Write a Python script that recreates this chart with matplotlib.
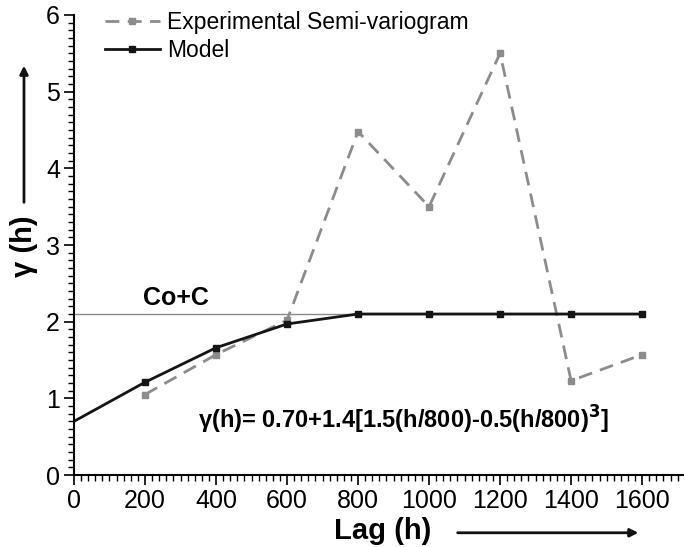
import matplotlib.pyplot as plt
from matplotlib.ticker import MultipleLocator

plt.rcParams['font.family'] = ['Liberation Sans', 'DejaVu Sans']

lag_exp = [200, 400, 600, 800, 1000, 1200, 1400, 1600]
gamma_exp = [1.05, 1.57, 2.02, 4.48, 3.5, 5.5, 1.23, 1.57]
lag_mod = [0, 200, 400, 600, 800, 1000, 1200, 1400, 1600]
gamma_mod = [0.7, 1.21, 1.66, 1.97, 2.1, 2.1, 2.1, 2.1, 2.1]
sill = 2.1

fig = plt.figure(figsize=(6.85, 5.47), dpi=100)
ax = fig.add_axes([0.108, 0.1316, 0.889, 0.841])

ax.plot([0, 1600], [sill, sill], color='#8a8a8a', lw=1)
ax.plot(lag_exp, gamma_exp, color='#8c8c8c', ls=(0, (5, 3)), lw=2,
        marker='s', ms=5, label='Experimental Semi-variogram')
ax.plot(lag_mod, gamma_mod, color='#151515', lw=2, marker='s', ms=5,
        markevery=list(range(1, 9)), label='Model')

ax.set_xlim(0, 1715)
ax.set_ylim(0, 6)
ax.xaxis.set_major_locator(MultipleLocator(200))
ax.xaxis.set_minor_locator(MultipleLocator(20))
ax.yaxis.set_major_locator(MultipleLocator(1))
ax.yaxis.set_minor_locator(MultipleLocator(0.1))
ax.tick_params(which='major', length=7, width=1.2, labelsize=18, pad=3)
ax.tick_params(which='minor', length=4, width=1)
for s in ['top', 'right']:
    ax.spines[s].set_visible(False)
for s in ['left', 'bottom']:
    ax.spines[s].set_linewidth(1.5)

ax.text(194, 2.22, 'Co+C', fontsize=18, fontweight='bold')
ax.text(350, 0.61, r'γ(h)= 0.70+1.4[1.5(h/800)-0.5(h/800)$^{\mathbf{3}}$]',
        fontsize=17, fontweight='bold')

leg = ax.legend(loc='upper left', bbox_to_anchor=(0.153, 0.98),
                bbox_transform=fig.transFigure, frameon=False,
                borderpad=0, borderaxespad=0,
                fontsize=16.5, handlelength=2.4, handletextpad=0.3,
                labelspacing=0.2)

# axis labels with arrows
fig.text(0.035, 0.55, 'γ (h)', rotation=90, fontsize=21, fontweight='bold',
         ha='center', va='center')
fig.add_artist(plt.Annotation('', xy=(0.035, 0.885), xytext=(0.035, 0.625),
                              xycoords='figure fraction',
                              arrowprops=dict(arrowstyle='-|>', lw=2,
                                              color='#111111', mutation_scale=12)))
fig.text(0.559, 0.03, 'Lag (h)', fontsize=21, fontweight='bold',
         ha='center', va='center')
fig.add_artist(plt.Annotation('', xy=(0.936, 0.026), xytext=(0.664, 0.026),
                              xycoords='figure fraction',
                              arrowprops=dict(arrowstyle='-|>', lw=2,
                                              color='#111111', mutation_scale=12)))

plt.savefig('out.png', dpi=100)
